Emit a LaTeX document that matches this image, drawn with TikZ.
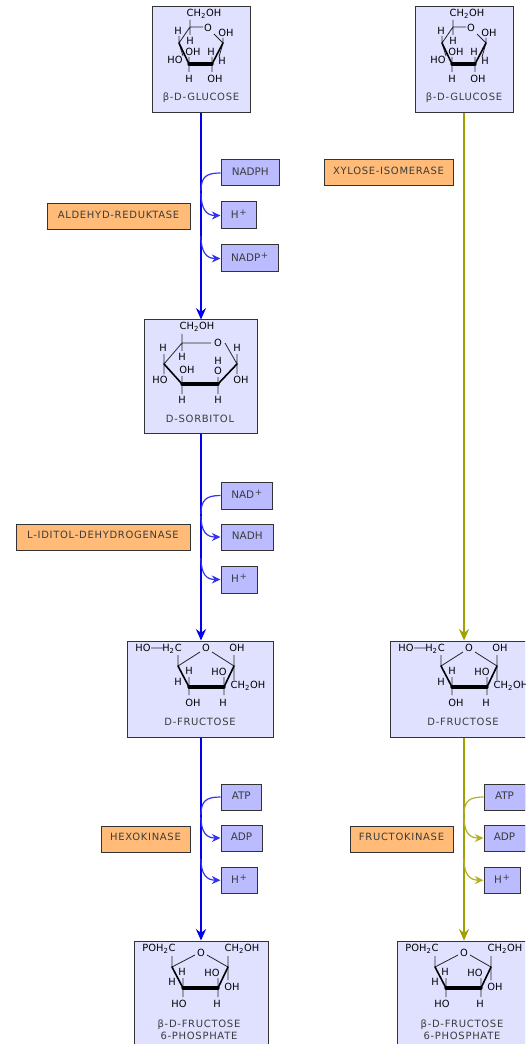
\documentclass[tikz,border=0pt]{standalone}
\usepackage{fontspec}
\setmainfont{DejaVu Sans}
\newfontfamily\capfont[LetterSpace=7]{DejaVu Sans}
\usetikzlibrary{arrows.meta}
\definecolor{molfill}{HTML}{E0E0FF}
\definecolor{regfill}{HTML}{BBBBFF}
\definecolor{enzfill}{HTML}{FFBB77}
\definecolor{edgec}{HTML}{333333}
\definecolor{txtc}{HTML}{3C3C3C}
\definecolor{pblue}{HTML}{0000EE}
\definecolor{polive}{HTML}{A0A000}
\definecolor{sblue}{HTML}{3333EE}
\definecolor{solive}{HTML}{B0B020}
\newcounter{atomn}
\newcommand\atomfont{\fontsize{7.4pt}{8pt}\selectfont}
\newcommand\lab[3]{\stepcounter{atomn}\node[atom] (at\theatomn) at (#1,#2) {#3};}
\newcommand\boxx[7]{% style,name,x1,y1,x2,y2,text
  \pgfmathsetmacro\bw{(#5-#3)*0.75}\pgfmathsetmacro\bh{(#6-#4)*0.75}%
  \node[#1,minimum width=\bw pt,minimum height=\bh pt] (#2) at ({(#3+#5)/2},{(#4+#6)/2}) {\raisebox{1.6pt}{#7}};}
\newcommand\enz[1]{\raisebox{1.1pt}{#1}}
\newcommand\csub[1]{\textsubscript{#1}}
\newcommand\plusup{\kern0.5pt\raisebox{2.6pt}{\fontsize{6.6pt}{7pt}\selectfont +}}
\tikzset{
 x=0.75pt,y=-0.75pt,
 atom/.style={inner sep=0pt,font=\atomfont,text=black},
 molbox/.style={draw=edgec,fill=molfill,line width=0.75pt,inner sep=0pt},
 regbox/.style={draw=edgec,fill=regfill,line width=0.75pt,inner sep=0pt,text=txtc,font=\fontsize{7.8pt}{8pt}\selectfont},
 enzbox/.style={draw=edgec,fill=enzfill,line width=0.75pt,inner sep=0pt,text=txtc,font=\capfont\fontsize{7.5pt}{8pt}\selectfont},
 caption/.style={inner sep=0pt,text=txtc,font=\capfont\fontsize{7.5pt}{9pt}\selectfont,align=center},
 thinb/.style={line width=0.6pt,draw=black!85},
 medb/.style={line width=1.2pt,draw=black},
 fatb/.style={line width=2.4pt,draw=black},
 mainblue/.style={draw=pblue,line width=1.9pt,-{Stealth[length=8.5pt,width=7.5pt]}},
 mainolive/.style={draw=polive,line width=1.9pt,-{Stealth[length=8.5pt,width=7.5pt]}},
 sideblue/.style={draw=sblue,line width=0.9pt},
 sideolive/.style={draw=solive,line width=0.9pt},
 sideblueA/.style={draw=sblue,line width=0.9pt,-{Stealth[length=6.5pt,width=6pt]}},
 sideoliveA/.style={draw=solive,line width=0.9pt,-{Stealth[length=6.5pt,width=6pt]}},
}
% glucose molecule
\newcommand\glucose[1]{%
 \boxx{molbox}{#1}{152}{7}{250}{113}{}
 \draw[thinb] (190,20)--(190,35) (190,27)--(203,27) (190,27)--(179,43) (223,43)--(214,34) (179,43)--(179,36) (223,43)--(223,38);
 \draw[thinb] (189,64)--(189,72) (212,64)--(212,72) (189,64)--(189,57) (212,64)--(212,57) (179,43)--(183,56) (223,43)--(219,57);
 \draw[medb,line cap=round] (179,43)--(189,64) (212,64)--(223,43);
 \draw[fatb,line cap=round] (189,64)--(212,64);
 \lab{204}{14}{CH\csub{2}OH}\lab{178}{31}{H}\lab{208}{28}{O}\lab{190}{41}{H}\lab{226}{33}{OH}
 \lab{193}{52}{OH}\lab{211}{52}{H}\lab{175}{60}{HO}\lab{222}{61}{H}\lab{189}{79}{H}\lab{215}{79}{OH}
 \node[caption] (#1cap) at (201,98) {β-D-GLUCOSE};}
\newcommand\fructose[1]{%
 \boxx{molbox}{#1}{127.5}{641}{273.5}{737}{}
 \draw[thinb] (178,655)--(178,666) (178,666)--(200,652) (212,652)--(234,666) (234,655)--(234,680) (189,687)--(189,695) (224,687)--(224,695) (189,687)--(189,677) (224,687)--(224,677) (151,648)--(163,648);
 \draw[medb,line cap=round] (178,666)--(189,687) (224,687)--(234,666);
 \draw[fatb,line cap=round] (189,687)--(224,687);
 \lab{143}{648}{HO}\lab{172}{649}{H\csub{2}C}\lab{206}{648}{O}\lab{237}{648}{OH}\lab{189}{671}{H}\lab{178}{682}{H}\lab{219}{672}{HO}\lab{248}{686}{CH\csub{2}OH}\lab{193}{703}{OH}\lab{223}{703}{H}
 \node[caption] (#1cap) at (200,722) {D-FRUCTOSE};}
\newcommand\fsix[1]{%
 \boxx{molbox}{#1}{134}{941}{268}{1060}{}
 \draw[thinb] (172,956)--(172,967) (172,967)--(195,955) (207,955)--(228,967) (228,956)--(228,980) (183,988)--(183,997) (218,988)--(218,997) (183,988)--(183,978) (218,988)--(218,978);
 \draw[medb,line cap=round] (172,967)--(183,988) (218,988)--(228,967);
 \draw[fatb,line cap=round] (183,988)--(218,988);
 \lab{159}{949}{POH\csub{2}C}\lab{242}{949}{CH\csub{2}OH}\lab{201}{953}{O}\lab{182}{972}{H}\lab{172}{982}{H}\lab{212}{973}{HO}\lab{232}{987}{OH}\lab{179}{1004}{HO}\lab{217}{1004}{H}
 \node[caption] (#1cap) at (199,1030) {β-D-FRUCTOSE\\6-PHOSPHATE};}
\begin{document}
\begin{tikzpicture}
\useasboundingbox (0,0) rectangle (525,1044);
\clip (0,0) rectangle (525,1044);
% left column
\glucose{gluL}
\boxx{molbox}{sor}{144.5}{320}{257}{433.5}{}
\draw[thinb] (182,334)--(182,351) (182,343)--(211,343) (182,343)--(164,364) (225,343)--(237,364) (164,364)--(164,354) (237,364)--(237,354) (164,364)--(164,374) (237,364)--(237,374) (182,384)--(182,376) (218,384)--(218,377) (182,384)--(182,394) (218,384)--(218,394);
\draw[medb,line cap=round] (164,364)--(182,384) (218,384)--(237,364);
\draw[fatb,line cap=round] (182,384)--(218,384);
\lab{197}{327}{CH\csub{2}OH}\lab{163}{348}{H}\lab{182}{357}{H}\lab{218}{343}{O}\lab{237}{348}{H}\lab{218}{361}{H}\lab{218}{371}{O}\lab{187}{370}{OH}\lab{160}{380}{HO}\lab{241}{380}{OH}\lab{182}{400}{H}\lab{218}{400}{H}
\node[caption] (sorcap) at (200,419) {D-SORBITOL};
\fructose{fruL}
\fsix{fsixL}
% left reagents
\boxx{regbox}{nadph}{221}{160}{279.5}{186}{NADPH}
\boxx{regbox}{hA}{221}{202}{256.5}{229}{H\plusup}
\boxx{regbox}{nadp}{221}{245}{278.5}{272}{NADP\plusup}
\boxx{enzbox}{ar}{47}{204}{190}{229.5}{\enz{ALDEHYD-REDUKTASE}}
\boxx{regbox}{nad}{221}{482}{272.5}{509}{NAD\plusup}
\boxx{regbox}{nadh}{221}{524}{273.5}{550}{NADH}
\boxx{regbox}{hB}{221}{566}{257}{593}{H\plusup}
\boxx{enzbox}{idh}{16}{524}{190}{550}{\enz{L-IDITOL-DEHYDROGENASE}}
\boxx{regbox}{atpL}{221}{784}{261.5}{810}{ATP}
\boxx{regbox}{adpL}{221}{825}{262}{851}{ADP}
\boxx{regbox}{hC}{221}{867}{257}{893.5}{H\plusup}
\boxx{enzbox}{hk}{101}{826}{190}{852}{\enz{HEXOKINASE}}
% left main connectors
\draw[mainblue] (gluL.south -| 201,0) -- (sor.north -| 201,0);
\draw[mainblue] (sor.south -| 201,0) -- (fruL.north -| 201,0);
\draw[mainblue] (fruL.south -| 201,0) -- (fsixL.north -| 201,0);
% left side connectors
\coordinate (j1) at (201,191); \coordinate (j2) at (201,193); \coordinate (j3) at (201,236);
\draw[sideblue] (nadph.west) .. controls (206,173) and (201,177) .. (j1);
\draw[sideblueA] (j2) .. controls (201,210) and (207,215.5) .. (hA.west);
\draw[sideblueA] (j3) .. controls (201,253) and (207,258.5) .. (nadp.west);
\coordinate (j4) at (201,514); \coordinate (j5) at (201,516); \coordinate (j6) at (201,558);
\draw[sideblue] (nad.west) .. controls (206,495.5) and (201,500) .. (j4);
\draw[sideblueA] (j5) .. controls (201,532) and (207,537) .. (nadh.west);
\draw[sideblueA] (j6) .. controls (201,575) and (207,579.5) .. (hB.west);
\coordinate (j7) at (201,815); \coordinate (j8) at (201,817); \coordinate (j9) at (201,859);
\draw[sideblue] (atpL.west) .. controls (206,797) and (201,801) .. (j7);
\draw[sideblueA] (j8) .. controls (201,833) and (207,838) .. (adpL.west);
\draw[sideblueA] (j9) .. controls (201,875) and (207,880) .. (hC.west);
% right column
\begin{scope}[shift={(263,0)},name prefix=r-]
\glucose{glu}
\fructose{fru}
\fsix{fsix}
\boxx{regbox}{atp}{221}{784}{262}{810}{ATP}
\boxx{regbox}{adp}{221}{825}{262}{851}{ADP}
\boxx{regbox}{hD}{221}{867}{257}{893.5}{H\plusup}
\boxx{enzbox}{xi}{61}{160}{190}{186}{\enz{XYLOSE-ISOMERASE}}
\boxx{enzbox}{fk}{87}{826}{190}{852}{\enz{FRUCTOKINASE}}
\draw[mainolive] (glu.south -| 201,0) -- (fru.north -| 201,0);
\draw[mainolive] (fru.south -| 201,0) -- (fsix.north -| 201,0);
\coordinate (k1) at (201,815); \coordinate (k2) at (201,817); \coordinate (k3) at (201,859);
\draw[sideolive] (atp.west) .. controls (206,797) and (201,801) .. (k1);
\draw[sideoliveA] (k2) .. controls (201,833) and (207,838) .. (adp.west);
\draw[sideoliveA] (k3) .. controls (201,875) and (207,880) .. (hD.west);
\end{scope}
\end{tikzpicture}
\end{document}
